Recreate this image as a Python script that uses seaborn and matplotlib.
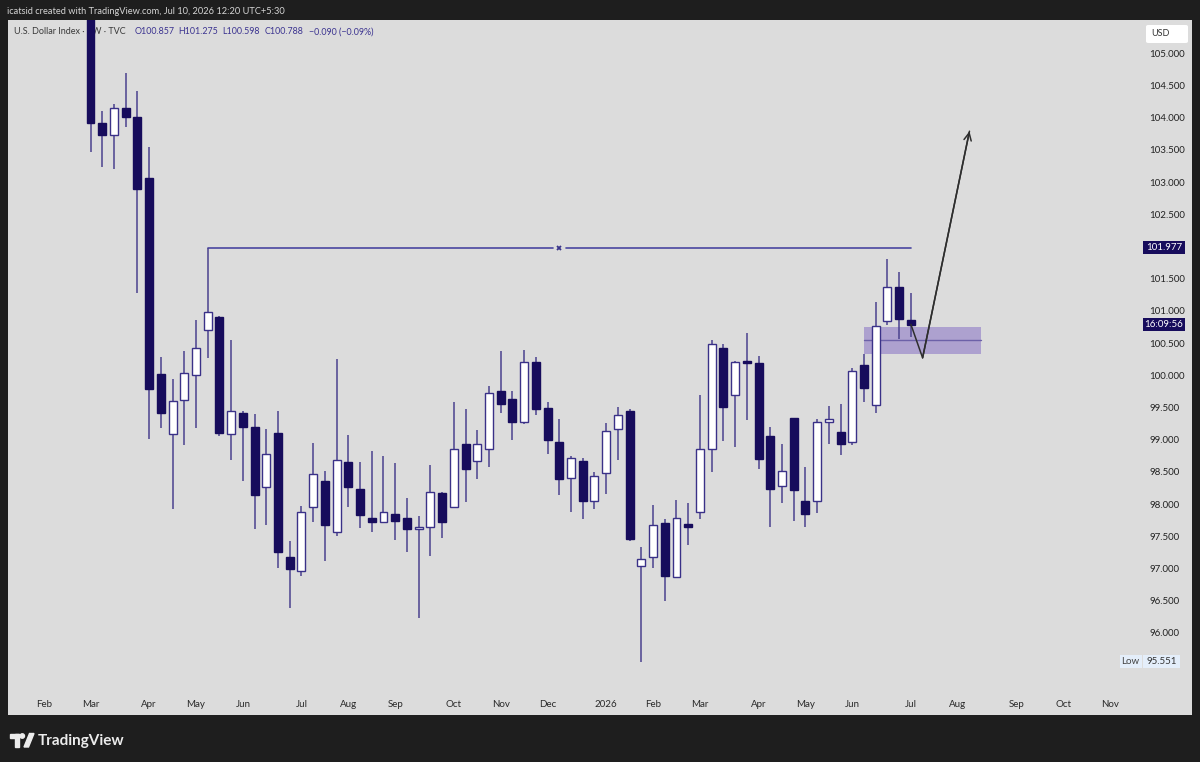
import numpy as np
import pandas as pd
import matplotlib
matplotlib.use('Agg')
import matplotlib.pyplot as plt
import matplotlib.patches as mpatches
import seaborn as sns

# weekly candles of the U.S. Dollar Index, first bar = week of 2025-03-03
first_week = '2025-03-03'
opens = [107.60, 103.91, 103.73, 104.15, 104.01, 103.07, 100.02, 99.08, 99.61, 100.01,
         100.70, 100.91, 99.09, 99.42, 99.20, 98.27, 99.10, 97.18, 96.96, 97.96,
         98.36, 97.57, 98.65, 98.24, 97.79, 97.72, 97.84, 97.79, 97.62, 97.65,
         98.17, 97.96, 98.94, 98.67, 98.85, 99.76, 99.63, 99.27, 100.20, 99.49,
         98.96, 98.40, 98.67, 98.05, 98.48, 99.17, 99.44, 97.03, 97.18, 97.71,
         96.87, 97.69, 97.87, 98.86, 100.43, 99.69, 100.22, 100.19, 99.05, 98.28,
         99.33, 98.05, 98.04, 99.28, 99.12, 98.97, 100.16, 99.54, 100.84, 101.37,
         100.857]
highs = [107.80, 104.10, 104.22, 104.70, 104.41, 103.55, 100.29, 99.94, 100.38, 100.86,
         101.977, 100.92, 100.55, 99.44, 99.40, 99.16, 99.44, 97.42, 97.97, 98.95,
         98.52, 100.26, 99.07, 98.66, 98.83, 98.74, 98.63, 98.09, 97.81, 98.61,
         98.18, 99.58, 99.47, 99.15, 99.84, 100.37, 99.75, 100.39, 100.29, 99.58,
         99.32, 98.75, 98.72, 98.50, 99.26, 99.50, 99.47, 97.34, 97.99, 97.76,
         98.07, 98.01, 99.69, 100.54, 100.48, 100.22, 100.65, 100.30, 99.19, 98.94,
         99.34, 98.58, 99.32, 99.53, 99.55, 100.12, 100.33, 101.13, 101.80, 101.61,
         101.275]
lows = [103.47, 103.23, 103.21, 103.85, 101.28, 99.01, 99.18, 97.92, 98.91, 99.18,
        100.27, 99.05, 98.69, 98.35, 97.61, 97.68, 97.00, 96.39, 96.89, 97.72,
        97.12, 97.51, 97.95, 97.63, 97.56, 97.70, 97.44, 97.26, 96.23, 97.20,
        97.47, 97.95, 98.03, 98.39, 98.58, 99.41, 98.99, 99.25, 99.38, 98.77,
        98.14, 97.88, 97.76, 97.92, 98.16, 98.69, 97.43, 95.551, 97.01, 96.50,
        96.87, 97.36, 97.77, 98.50, 98.98, 98.89, 99.31, 98.54, 97.65, 98.01,
        97.74, 97.64, 97.86, 98.94, 98.76, 98.91, 99.59, 99.41, 100.78, 100.57,
        100.598]
closes = [103.92, 103.73, 104.15, 104.01, 102.90, 99.78, 99.41, 99.60, 100.03, 100.43,
          100.98, 99.10, 99.45, 99.20, 98.14, 98.78, 97.26, 96.99, 97.87, 98.47,
          97.67, 98.69, 98.27, 97.83, 97.72, 97.87, 97.74, 97.61, 97.65, 98.18,
          97.72, 98.86, 98.54, 98.94, 99.73, 99.55, 99.27, 100.20, 99.48, 98.99,
          98.39, 98.72, 98.05, 98.43, 99.14, 99.38, 97.45, 97.15, 97.68, 96.88,
          97.79, 97.65, 98.86, 100.49, 99.51, 100.20, 100.19, 98.70, 98.23, 98.52,
          98.22, 97.85, 99.28, 99.32, 98.94, 100.07, 99.80, 100.77, 101.37, 100.87,
          100.788]

month_labels = ['Feb', 'Mar', 'Apr', 'May', 'Jun', 'Jul', 'Aug', 'Sep', 'Oct', 'Nov', 'Dec',
                '2026', 'Feb', 'Mar', 'Apr', 'May', 'Jun', 'Jul', 'Aug', 'Sep', 'Oct', 'Nov']
month_starts = ['2025-02-03', '2025-03-03', '2025-04-07', '2025-05-05', '2025-06-02',
                '2025-07-07', '2025-08-04', '2025-09-01', '2025-10-06', '2025-11-03',
                '2025-12-01', '2026-01-05', '2026-02-02', '2026-03-02', '2026-04-06',
                '2026-05-04', '2026-06-01', '2026-07-06', '2026-08-03', '2026-09-07',
                '2026-10-05', '2026-11-02']

# drawings on the chart
level_price = 101.977
level_from, level_to = 10, 70
zone_low, zone_high = 100.326, 100.756
zone_from, zone_to = 66, 76
path_x = [70, 71, 75]
path_y = [100.79, 100.27, 103.79]
last_low = 95.551

sns.set_theme(style='white')
plt.rcParams['font.family'] = ['Lato', 'DejaVu Sans']

navy = '#170c5c'
wick_col = '#4a428f'
edge_col = '#3a3188'
W, H = 1200, 762

fig = plt.figure(figsize=(12, 7.62), dpi=100)
fig.patch.set_facecolor('#1e1e1e')

# light panel behind chart + scales
panel = fig.add_axes([8 / W, 1 - 715 / H, 1184 / W, 695 / H])
panel.set_facecolor('#dcdcdc')
panel.set_xticks([])
panel.set_yticks([])
for s in panel.spines.values():
    s.set_visible(False)

ax_left, ax_bottom, ax_w, ax_h = 8 / W, 1 - 690 / H, 1132 / W, 670 / H
ax = fig.add_axes([ax_left, ax_bottom, ax_w, ax_h])
ax.patch.set_alpha(0)
ymin, ymax = 95.112, 105.517
ax.set_ylim(ymin, ymax)
ax.set_xlim(-7.04, 89.55)
for s in ax.spines.values():
    s.set_visible(False)

o = np.array(opens)
c = np.array(closes)
xs = np.arange(len(opens))
up = c >= o
body_lo = np.minimum(o, c)
body_h = np.abs(c - o)

ax.vlines(xs, lows, highs, color=wick_col, lw=1.1, zorder=3)
ax.bar(xs[up], body_h[up], bottom=body_lo[up], width=0.68, color='white',
       edgecolor=edge_col, linewidth=1.0, zorder=4)
ax.bar(xs[~up], body_h[~up], bottom=body_lo[~up], width=0.68, color=navy,
       edgecolor=navy, linewidth=1.0, zorder=4)

# resistance level with midpoint marker
mid = (level_from + level_to) / 2
ax.plot([level_from, mid - 0.55], [level_price, level_price], color='#4a47a0', lw=1.2, zorder=2)
ax.plot([mid + 0.55, level_to], [level_price, level_price], color='#4a47a0', lw=1.2, zorder=2)
ax.plot([mid], [level_price], marker='x', ms=3.5, mew=1.3, color='#3a358a', zorder=2)

# demand zone
ax.add_patch(mpatches.Rectangle((zone_from, zone_low), zone_to - zone_from, zone_high - zone_low,
                                facecolor='#ada1cf', edgecolor='none', zorder=1.5))
zmid = (zone_low + zone_high) / 2
ax.plot([zone_from, zone_to], [zmid, zmid], color='#6c61a8', lw=1.0, zorder=1.6)

# projected path
sns.lineplot(x=path_x, y=path_y, color='#2e2e2e', lw=1.1, sort=False, ax=ax, zorder=5)
ax.annotate('', xy=(path_x[-1], path_y[-1]), xytext=(path_x[-2], path_y[-2]),
            arrowprops=dict(arrowstyle='->,head_length=0.45,head_width=0.22',
                            color='#2e2e2e', lw=1.1, shrinkA=0, shrinkB=0), zorder=5)

# axes ticks
week0 = pd.Timestamp(first_week)
month_pos = [(pd.Timestamp(d) - week0).days / 7 for d in month_starts]
ax.set_xticks(month_pos, month_labels)
price_ticks = [t for t in np.arange(96.0, 105.01, 0.5) if abs(t - 102.0) > 1e-6]
ax.yaxis.tick_right()
ax.set_yticks(price_ticks, [f'{t:.3f}' for t in price_ticks])
ax.tick_params(axis='x', length=0, pad=7, labelsize=7, labelcolor='#2a2a2a')
ax.tick_params(axis='y', length=0, pad=6.5, labelsize=7, labelcolor='#222222')
ax.grid(False)

# legend line (drawn under the candles)
leg_y = 1 - 31.7 / H
ax.text(14 / W, leg_y, 'U.S. Dollar Index · 1W · TVC', transform=fig.transFigure,
        fontsize=6.5, color='#3a3a3a', va='center', zorder=1)
for px, s in [(135, 'O100.857'), (178, 'H101.275'), (222, 'L100.598'),
              (265, 'C100.788'), (309, '−0.090 (−0.09%)')]:
    ax.text(px / W, leg_y, s, transform=fig.transFigure, fontsize=6.4,
            color='#3b3390', va='center', zorder=1)

# header and footer
fig.text(7 / W, 1 - 11 / H, 'icatsid created with TradingView.com, Jul 10, 2026 12:20 UTC+5:30',
         fontsize=6.7, color='#d5d5d5', va='center')
fig.text(38 / W, 1 - 740.5 / H, 'TradingView', fontsize=11, fontweight='bold',
         color='#ececec', va='center')
logo_col = '#ececec'
fig.add_artist(mpatches.Rectangle((9.5 / W, 1 - 738 / H), 9.5 / W, 4.5 / H,
                                  transform=fig.transFigure, color=logo_col))
fig.add_artist(mpatches.Rectangle((14.5 / W, 1 - 747 / H), 4.5 / W, 13.5 / H,
                                  transform=fig.transFigure, color=logo_col))
fig.add_artist(mpatches.Ellipse((22.3 / W, 1 - 736 / H), 4.4 / W, 4.4 / H,
                                transform=fig.transFigure, color=logo_col))
fig.add_artist(mpatches.Polygon([(24 / W, 1 - 747 / H), (29.5 / W, 1 - 733.5 / H),
                                 (34 / W, 1 - 733.5 / H), (28.5 / W, 1 - 747 / H)],
                                transform=fig.transFigure, color=logo_col))


def fig_y(price):
    return ax_bottom + (price - ymin) / (ymax - ymin) * ax_h


def scale_box(x0, x1, price, text, face, tcol, h=13):
    fy = fig_y(price)
    fig.add_artist(mpatches.Rectangle((x0 / W, fy - h / 2 / H), (x1 - x0) / W, h / H,
                                      transform=fig.transFigure, facecolor=face,
                                      edgecolor='none'))
    fig.text((x0 + x1) / 2 / W, fy, text, fontsize=7, color=tcol, ha='center', va='center')


scale_box(1143, 1185, level_price, f'{level_price:.3f}', navy, 'white')
scale_box(1143, 1185, closes[-1], '16:09:56', navy, 'white')
scale_box(1119.5, 1141.8, last_low, 'Low', '#e4eefa', '#444444')
scale_box(1142.8, 1180, last_low, f'{last_low:.3f}', '#e4eefa', '#333333')

# currency box
fig.add_artist(mpatches.FancyBboxPatch((1146 / W, 1 - 43 / H), 42 / W, 18 / H,
                                       boxstyle='round,pad=0,rounding_size=0.002',
                                       transform=fig.transFigure, facecolor='white',
                                       edgecolor='none'))
fig.text(1160 / W, 1 - 34 / H, 'USD', fontsize=6.5, color='#333333', ha='center', va='center')

fig.savefig('out.png', dpi=100, facecolor=fig.get_facecolor())
